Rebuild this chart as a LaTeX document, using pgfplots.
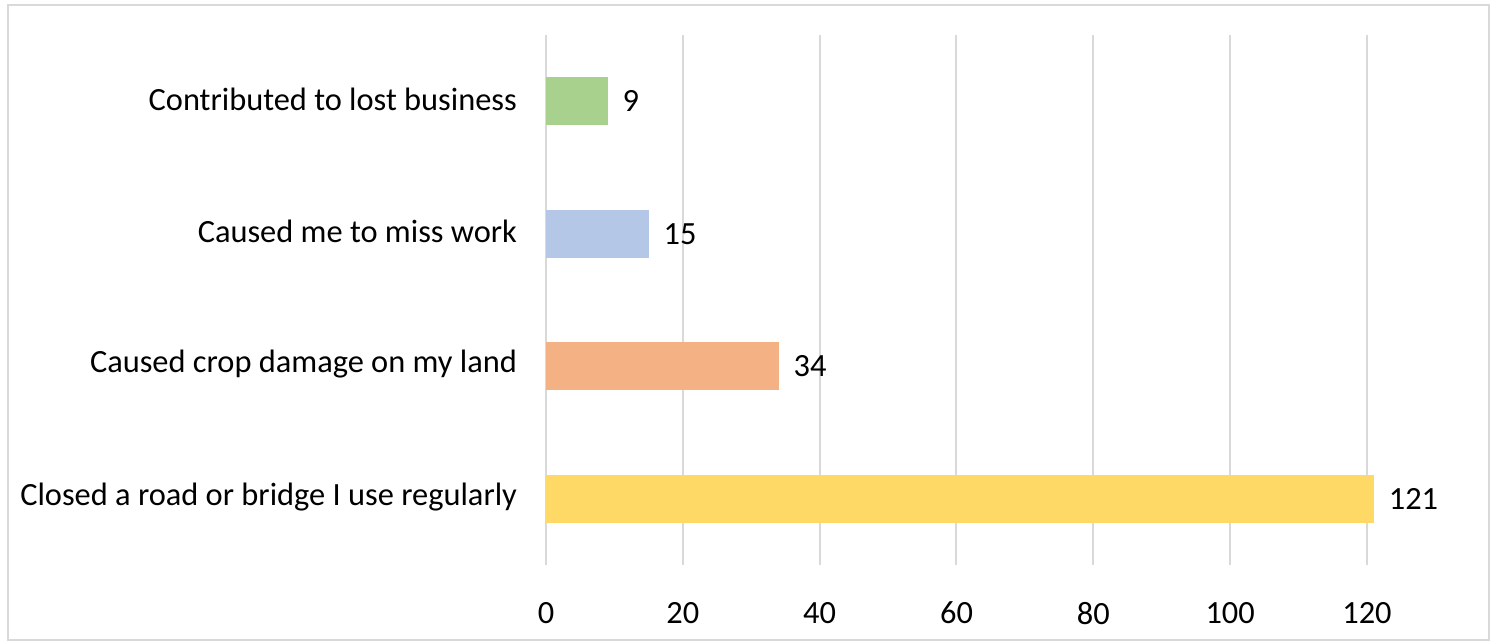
\documentclass[border=0pt]{standalone}
\usepackage{fontspec}
\setmainfont{Carlito}
\usepackage{pgfplots}
\pgfplotsset{compat=1.18}
\definecolor{gridgray}{HTML}{D9D9D9}
\definecolor{cgreen}{HTML}{A9D18E}
\definecolor{cblue}{HTML}{B4C7E7}
\definecolor{corange}{HTML}{F4B183}
\definecolor{cyellow}{HTML}{FFD966}
\begin{document}
\begin{tikzpicture}
\useasboundingbox (-273bp,-39bp) rectangle (474.5bp,282.5bp);
\draw[gridgray, line width=1.2bp] (-269bp,-37.5bp) rectangle (471.5bp,280bp);
\begin{axis}[
  at={(0,0)}, anchor=south west,
  scale only axis,
  width=410.5bp, height=265bp,
  xbar, bar width=0.362, bar shift=0pt,
  xmin=0, xmax=120, ymin=-0.5, ymax=3.5,
  clip=false,
  axis line style={draw=none},
  major tick length=0pt,
  xtick={0,20,40,60,80,100,120},
  ytick={0,1,2,3},
  yticklabels={Closed a road or bridge I use regularly, Caused crop damage on my land, Caused me to miss work, Contributed to lost business},
  xmajorgrids, ymajorgrids=false,
  grid style={gridgray, line width=1bp},
  /pgf/number format/assume math mode=true,
  tick label style={font=\fontsize{16.2bp}{19bp}\selectfont, text=black},
  xticklabel style={yshift=-15bp},
  yticklabel style={xshift=-11bp, yshift=1bp},
  nodes near coords,
  nodes near coords style={font=\fontsize{16.2bp}{19bp}\selectfont, text=black, xshift=4bp},
]
\addplot[fill=cyellow, draw=none] coordinates {(121,0)};
\addplot[fill=corange, draw=none] coordinates {(34,1)};
\addplot[fill=cblue, draw=none] coordinates {(15,2)};
\addplot[fill=cgreen, draw=none] coordinates {(9,3)};
\end{axis}
\end{tikzpicture}
\end{document}
